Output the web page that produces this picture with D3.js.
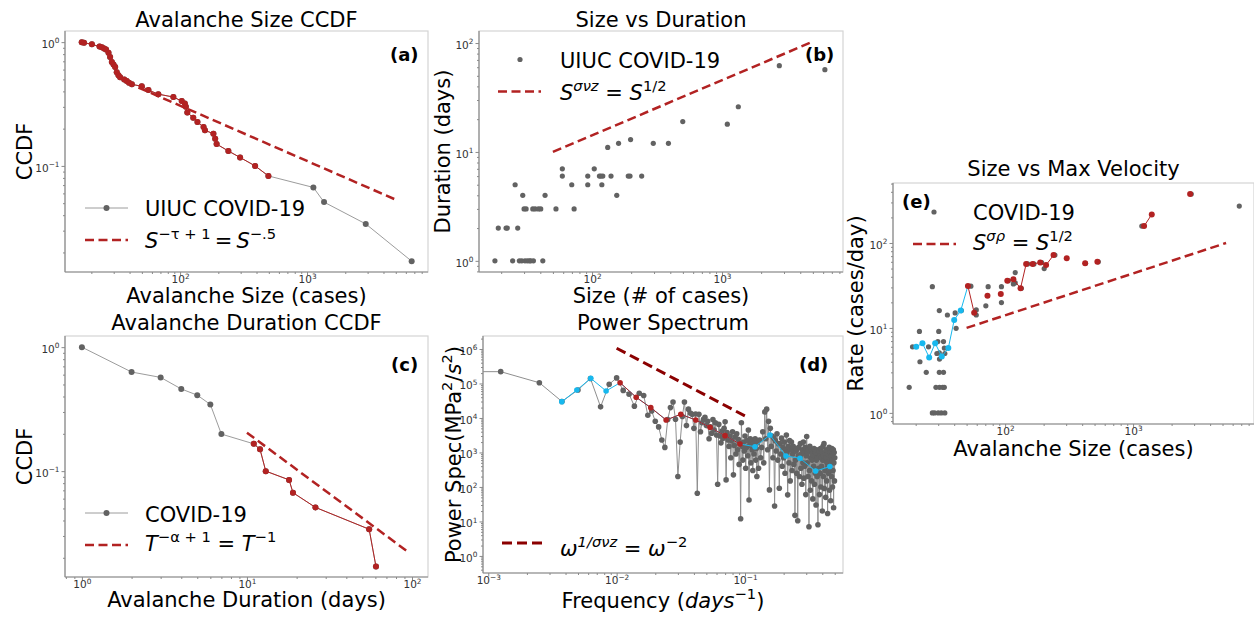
<!DOCTYPE html>
<html><head><meta charset="utf-8">
<script src="https://cdn.jsdelivr.net/npm/d3@7"></script>
<style>body{margin:0;background:#fff} svg{display:block} text{font-family:"DejaVu Sans",sans-serif}</style>
</head><body><svg id="c" width="1254" height="617"></svg>
<script>
// ---------- (a) Avalanche size CCDF ----------
const sizeCcdfSize = [16.8,17.5,20.2,23.2,24.2,25.2,26.1,27.3,28.1,29.0,29.9,30.8,31.7,32.7,33.7,36.3,38.0,39.6,41.7,49.9,56.3,67.4,88.5,103,109,111,114,127,137,153,157,183,189,194,240,297,390,496,1122,1361,2900,6670];
const sizeCcdfProb = [1.0,0.99,0.96,0.92,0.91,0.89,0.87,0.82,0.76,0.69,0.66,0.63,0.57,0.54,0.52,0.50,0.485,0.47,0.456,0.44,0.41,0.38,0.36,0.334,0.32,0.30,0.27,0.245,0.226,0.206,0.194,0.182,0.166,0.15,0.132,0.117,0.10,0.083,0.067,0.051,0.034,0.017];
const sizeFitMax = 500;
const sizeFitX = [47, 5080], sizeFitY = [0.43, 0.053];

// ---------- (b) Size vs duration ----------
const durSizeS = [17.9,19.0,21.8,22.3,24.5,25.6,26.8,27.6,28.8,29.3,30.0,30.5,31.1,31.8,33.0,33.8,35.0,35.4,36.5,38.7,40.3,41.8,43.5,52.8,59.1,59.1,69.8,72.8,92.7,92.7,104,114,117,119,121,132,140,155,160,190,196,198,241,296,387,499,1099,1335,2760,6190];
const durSizeT = [1,2,2,2,1,5,2,1,1,4,3,1,3,1,1,1,3,1,3,3,3,1,4,3,7,6,5,3,6,5,7,6,6,5,6,11,6,4,12,6,6,13,6,12,12,19,18,26,62,57];
const durFitX = [50, 4900], durFitY = [10, 102];

// ---------- (c) Duration CCDF ----------
const durCcdfT = [1,2,3,4,5,6,7,11,12,13,18,19,26,55,60.5];
const durCcdfProb = [1.0,0.63,0.57,0.46,0.41,0.345,0.199,0.166,0.15,0.10,0.085,0.067,0.051,0.034,0.017];
const durFitMin = 11;
const durCcdfFitX = [10, 96], durCcdfFitY = [0.204, 0.022];

// ---------- (d) Power spectrum ----------
const recordDays = 800;
const psdHarm = [0.6,1,2,3,4,5,6,7,8,9,10,11,12,13,14,15,16,17,18,19,20,21,22,23,24,25,26,27,28,29,30,31,32,33,34,35,36,37,38,39,40,41,42,43,44,45,46,47,48,49,50,51,52,53,54,55,56,57,58,59,60,61,62,63,64,65,66,67,68,69,70,71,72,73,74,75,76,77,78,79,80,81,82,83,84,85,86,87,88,89,90,91,92,93,94,95,96,97,98,99,100,
102,104,106,108,110,112,114,116,118,120,122,124,126,128,130,132,134,136,138,140,142,144,146,148,150,152,154,156,158,160,162,164,166,168,170,172,174,176,178,180,182,184,186,188,190,192,194,196,198,200,202,204,206,208,210,212,214,216,218,220,222,224,226,228,230,232,234,236,238,240,242,244,246,248,250,252,254,256,258,260,262,264,266,268,270,272,274,276,278,280,282,284,286,288,290,292,294,296,298,300,302,304,306,308,310,312,314,316,318,320,322,324,326,328,330,332,334,336,338,340,342,344,346,348,350,352,354,356,358,360,362,364,366,368,370,372,374,376,378,380,382,384,386,388,390,392,394,396,398,400];
const psdPow = [2.2e5,2.2e5,1.05e5,3.0e4,6.5e4,1.4e5,2.1e4,9.5e4,1.45e5,6.3e4,4.9e4,
2.2e4,5.2e4,4.5e4,1.2e4,1.6e4,8e3,5.5e3,2.3e3,1.4e3,9e3,
2.0e4,2.9e4,9.2e3,200,2.0e3,1.1e4,2.9e4,6e3,1.8e4,1.4e4,
1.28e4,5e3,1.3e4,66,1.28e4,4e3,7.3e3,9.2e3,1.05e4,6e3,
8e3,2.5e3,5.5e3,3.6e3,9e3,4.5e3,7.3e3,3.2e3,120,6.5e3,
3.0e3,1.9e3,4.2e3,2.6e3,5.0e3,7.8e3,160,3.8e3,2.3e3,1.5e3,
3.0e3,700,2.2e3,4.0e3,224,1.6e3,2.8e3,900,3.5e3,1.2e3,
2.4e3,450,1.8e3,12,7.3e3,1.5e3,600,2.0e3,1.1e3,3.0e3,
350,1.4e3,2.2e3,800,4.5e3,42,1.6e3,2.5e3,500,2.06e3,
1.2e3,300,1.8e3,900,1.5e3,2.5e3,600,1.3e3,200,1.9e3,
350,2300,700,1400,4000,500,15000,2500,18000,1200,
8000,82,5000,1500,3000,700,2600,28,2200,1100,
3500,600,1800,92,1800,900,2600,400,1400,700,
2000,250,1200,3200,1000,59,1500,500,2200,150,
1200,2000,300,900,1500,450,1100,15,600,1100,
250,1300,10.5,800,1400,200,700,1800,350,900,
120,1200,500,2000,180,1000,400,1400,60,800,
2900,500,1000,200,1200,7,300,1500,80,700,
1200,150,600,900,45,1100,400,1300,120,800,
250,1000,30,600,1200,200,700,8,900,350,
1100,60,800,250,1300,100,700,400,1000,20,
600,1500,200,800,1800,90,600,300,1000,50,
700,1200,150,500,900,17,400,1100,250,700,
1400,80,600,300,1000,40,500,800,200,1300,
600,100,900,300,1200,25,500,1000,150,700];
const psdBinFreq = [0.00374,0.0049,0.00629,0.00828,0.01064,0.0142,0.01845,0.0243,0.0316,0.0413,0.0534,0.0699,0.0914,0.1196,0.1566,0.2085,0.268,0.355,0.458];
const psdBinPow = [2.97e4,6.45e4,1.41e5,6.07e4,1.05e5,3.98e4,1.99e4,8.75e3,1.28e4,8.75e3,5.37e3,3.07e3,1.76e3,1.47e3,3.21e3,790,680,290,390];
const psdFitRange = [0.0106, 0.0915];
const psdFitX = [0.01, 0.1], psdFitY = [1.05e6, 1.14e4];

// ---------- (e) Size vs max velocity ----------
const velSize = [17.8,18.9,21.4,21.6,24.2,25.2,27.0,27.0,28.1,30.0,31.7,33.8,28.8,30.7,32.5,33.5,30.6,33.0,30.7,29.8,33.0,30.6,33.8,29.3,30.3,30.6,33.5,35.4,40.7,41.4,45.5,54.0,59.5,59.5,70.7,73.7,93.6,93.6,106,116,120,120,134,150,168,193,202,245,425,535,1170,2850,6760];
const velRate = [2,6,9.1,4,3,6,30.6,1,1,1,1,1,2,2,2,2,3,3,4.3,6.9,6.9,5.1,5,5,9.1,16,5.8,14.2,15,9.9,16,31,16.3,14.2,18.2,30.6,30.6,19.9,36,33,44.8,34,29.3,56.6,56.6,58.8,50,72,57.6,60,158,377,272];
const velBinSize = [20.2,22.6,25.5,28.4,32.0,36.0,40.0,45.0,51.2,57.3,72.8,92.5,104,116,132,146,164,188,209,239,303,422,526,1219,1400,2790];
const velBinRate = [6.0,6.6,4.5,6.6,4.6,5.8,12.4,16,31.2,15.1,24,25,36,37.4,29.3,56.6,56.6,58.8,55,72,66,57.6,60,158,217,377];
const velBinSeg = [0,0,0,0,0,0,0,0,1,1,2,3,4,4,4,4,4,4,4,4,5,6,7,8,8,9];
const velFitX = [50, 5330], velFitY = [10, 100];

// ---------- styling ----------
const GRAY = '#626262', LGRAY = '#9c9c9c', RED = '#b22222', DRED = '#8b0000', BLUE = '#17b8ee';
const svg = d3.select('#c');
const defs = svg.append('defs');

function rich(sel, parts, fs) {
  let shift = 0;
  parts.forEach(p => {
    const target = p.sup ? -fs * 0.42 : 0;
    const t = sel.append('tspan').text(p.t);
    if (target - shift) t.attr('dy', target - shift);
    shift = target;
    if (p.sup) t.attr('font-size', fs * 0.7);
    if (p.i) t.attr('font-style', 'italic');
  });
}
function expLabel(sel, d, fs) {
  const e = Math.round(Math.log10(d));
  sel.text(null);
  rich(sel, [{t: '10'}, {t: e < 0 ? '\u2212' + (-e) : String(e), sup: 1}], fs);
}
function logTicks(dom) {
  const maj = [], min = [];
  const lo = Math.floor(Math.log10(dom[0])), hi = Math.ceil(Math.log10(dom[1]));
  for (let e = lo; e <= hi; e++) {
    for (let m = 1; m <= 9; m++) {
      const v = m * Math.pow(10, e);
      if (v >= dom[0] * 0.9999 && v <= dom[1] * 1.0001) (m === 1 ? maj : min).push(v);
    }
  }
  return {maj, min};
}

function panel(p) {
  const x = d3.scaleLog().domain(p.xd).range([p.l, p.r]);
  const y = d3.scaleLog().domain(p.yd).range([p.b, p.t]);
  const g = svg.append('g');
  defs.append('clipPath').attr('id', 'clip' + p.id).append('rect')
    .attr('x', p.l).attr('y', p.t).attr('width', p.r - p.l).attr('height', p.b - p.t);
  g.append('rect').attr('x', p.l).attr('y', p.t).attr('width', p.r - p.l).attr('height', p.b - p.t)
    .attr('fill', 'none').attr('stroke', '#d4d4d4').attr('stroke-width', 1.2);
  g.append('line').attr('x1', p.l).attr('x2', p.l).attr('y1', p.t).attr('y2', p.b).attr('stroke', '#8a8a8a').attr('stroke-width', 1.2);
  g.append('line').attr('x1', p.l).attr('x2', p.r).attr('y1', p.b).attr('y2', p.b).attr('stroke', '#8a8a8a').attr('stroke-width', 1.2);
  const tx = logTicks(p.xd), ty = logTicks(p.yd);
  const fs = 10.5;
  const axes = [
    [d3.axisBottom(x).tickValues(tx.min).tickSize(2).tickFormat(''), `translate(0,${p.b})`, false],
    [d3.axisBottom(x).tickValues(tx.maj).tickSize(3.5).tickPadding(0.5).tickFormat(''), `translate(0,${p.b})`, 'x'],
    [d3.axisLeft(y).tickValues(ty.min).tickSize(2).tickFormat(''), `translate(${p.l},0)`, false],
    [d3.axisLeft(y).tickValues(ty.maj).tickSize(3.5).tickPadding(2).tickFormat(''), `translate(${p.l},0)`, 'y']
  ];
  axes.forEach(([ax, tr, lab]) => {
    const ga = g.append('g').attr('transform', tr).call(ax);
    ga.select('.domain').remove();
    ga.selectAll('.tick line').attr('stroke', '#8a8a8a');
    if (lab) {
      ga.selectAll('.tick text').attr('fill', '#333').attr('font-size', fs)
        .attr('font-family', '"DejaVu Sans",sans-serif')
        .each(function(d) { expLabel(d3.select(this), d, fs); });
      if (lab === 'y') ga.selectAll('.tick text').attr('dy', '0.5em');
    }
  });
  const data = svg.append('g').attr('clip-path', `url(#clip${p.id})`);
  const cx = (p.l + p.r) / 2, cy = (p.t + p.b) / 2;
  svg.append('text').attr('x', cx).attr('y', p.titleY).attr('text-anchor', 'middle').attr('font-size', 21).text(p.title);
  const xl = svg.append('text').attr('x', cx).attr('y', p.xlabY).attr('text-anchor', 'middle').attr('font-size', 21);
  rich(xl, p.xlab, 21);
  const yl = svg.append('text').attr('transform', `translate(${p.ylabX},${cy}) rotate(-90)`).attr('text-anchor', 'middle').attr('font-size', 21);
  rich(yl, p.ylab, 21);
  svg.append('text').attr('x', p.tagX).attr('y', p.tagY).attr('font-size', 18).attr('font-weight', 'bold').text(p.tag);
  return {x, y, data, g};
}

function dots(P, xs, ys, color, r, filter) {
  const idx = d3.range(xs.length).filter(i => xs[i] != null && (!filter || filter(i)));
  P.data.selectAll(null).data(idx).join('circle')
    .attr('cx', i => P.x(xs[i])).attr('cy', i => P.y(ys[i])).attr('r', r).attr('fill', color);
}
function pline(P, xs, ys, color, w, filter, dash) {
  const idx = d3.range(xs.length).filter(i => !filter || filter(i));
  const ln = d3.line().x(i => P.x(xs[i])).y(i => P.y(ys[i]));
  const path = P.data.append('path').attr('d', ln(idx)).attr('fill', 'none').attr('stroke', color).attr('stroke-width', w);
  if (dash) path.attr('stroke-dasharray', dash);
  return path;
}
function legendLine(x1, x2, y, color, w, dash, marker) {
  svg.append('line').attr('x1', x1).attr('x2', x2).attr('y1', y).attr('y2', y)
    .attr('stroke', color).attr('stroke-width', w).attr('stroke-dasharray', dash || null);
  if (marker) svg.append('circle').attr('cx', (x1 + x2) / 2).attr('cy', y).attr('r', 3).attr('fill', marker);
}
function legendText(x, y, parts) {
  const t = svg.append('text').attr('x', x).attr('y', y).attr('font-size', 21);
  rich(t, parts, 21);
}

// ---------- Panel (a) ----------
const A = panel({id: 'a', l: 65, r: 428, t: 31, b: 272, xd: [12.4, 8970], yd: [0.0139, 1.23],
  title: 'Avalanche Size CCDF', titleY: 27, xlab: [{t: 'Avalanche Size (cases)'}], xlabY: 303,
  ylab: [{t: 'CCDF'}], ylabX: 32, tag: '(a)', tagX: 390, tagY: 60.5});
pline(A, sizeCcdfSize, sizeCcdfProb, LGRAY, 1);
dots(A, sizeCcdfSize, sizeCcdfProb, GRAY, 3);
pline(A, sizeCcdfSize, sizeCcdfProb, RED, 1, i => sizeCcdfSize[i] <= sizeFitMax);
dots(A, sizeCcdfSize, sizeCcdfProb, RED, 3, i => sizeCcdfSize[i] <= sizeFitMax);
pline(A, sizeFitX, sizeFitY, RED, 2.5, null, '9,4.5');
legendLine(85, 128, 208, LGRAY, 1, null, GRAY);
legendText(145, 216, [{t: 'UIUC COVID-19'}]);
legendLine(85, 128, 240, RED, 2.5, '9,4.5');
legendText(145, 248, [{t: 'S', i: 1}, {t: '\u2212\u03c4 + 1', sup: 1}, {t: '\u2009=\u2009'}, {t: 'S', i: 1}, {t: '\u2212.5', sup: 1}]);

// ---------- Panel (b) ----------
const B = panel({id: 'b', l: 479, r: 843, t: 31, b: 272, xd: [13.5, 8530], yd: [0.79, 129],
  title: 'Size vs Duration', titleY: 27, xlab: [{t: 'Size (# of cases)'}], xlabY: 303,
  ylab: [{t: 'Duration (days)'}], ylabX: 450, tag: '(b)', tagX: 805, tagY: 60.5});
dots(B, durSizeS, durSizeT, GRAY, 2.6);
pline(B, durFitX, durFitY, RED, 2.5, null, '9,4.5');
svg.append('circle').attr('cx', 520).attr('cy', 59.5).attr('r', 2.6).attr('fill', GRAY);
legendText(560, 68, [{t: 'UIUC COVID-19'}]);
legendLine(498, 541, 91.5, RED, 2.5, '9,4.5');
legendText(560, 100, [{t: 'S', i: 1}, {t: '\u03c3\u03bdz', sup: 1, i: 1}, {t: ' = '}, {t: 'S', i: 1}, {t: '1/2', sup: 1}]);

// ---------- Panel (c) ----------
const C = panel({id: 'c', l: 65, r: 428, t: 336, b: 577, xd: [0.79, 125], yd: [0.014, 1.23],
  title: 'Avalanche Duration CCDF', titleY: 330, xlab: [{t: 'Avalanche Duration (days)'}], xlabY: 607,
  ylab: [{t: 'CCDF'}], ylabX: 32, tag: '(c)', tagX: 391, tagY: 370.5});
pline(C, durCcdfT, durCcdfProb, LGRAY, 1);
dots(C, durCcdfT, durCcdfProb, GRAY, 3);
pline(C, durCcdfT, durCcdfProb, RED, 1, i => durCcdfT[i] >= durFitMin);
dots(C, durCcdfT, durCcdfProb, RED, 3, i => durCcdfT[i] >= durFitMin);
pline(C, durCcdfFitX, durCcdfFitY, RED, 2.5, null, '9,4.5');
legendLine(85, 128, 513, LGRAY, 1, null, GRAY);
legendText(145, 522, [{t: 'COVID-19'}]);
legendLine(85, 128, 545, RED, 2.5, '9,4.5');
legendText(145, 551, [{t: 'T', i: 1}, {t: '\u2212\u03b1 + 1', sup: 1}, {t: ' = '}, {t: 'T', i: 1}, {t: '\u22121', sup: 1}]);

// ---------- Panel (d) ----------
const psdFreq = psdHarm.map(k => k / recordDays);
const D = panel({id: 'd', l: 483, r: 843, t: 336, b: 573, xd: [9.1e-4, 0.58], yd: [0.32, 2.38e6],
  title: 'Power Spectrum', titleY: 330, xlab: [{t: 'Frequency ('}, {t: 'days', i: 1}, {t: '\u22121', sup: 1}, {t: ')'}], xlabY: 608,
  ylab: [{t: 'Power Spec(MPa'}, {t: '2', sup: 1}, {t: '/'}, {t: 's', i: 1}, {t: '2', sup: 1}, {t: ')'}], ylabX: 461,
  tag: '(d)', tagX: 799, tagY: 370.5});
pline(D, psdFreq, psdPow, '#8f8f8f', 1);
dots(D, psdFreq, psdPow, GRAY, 2.8);
pline(D, psdBinFreq, psdBinPow, BLUE, 1);
dots(D, psdBinFreq, psdBinPow, BLUE, 2.8, i => psdBinFreq[i] < psdFitRange[0] || psdBinFreq[i] > psdFitRange[1]);
pline(D, psdBinFreq, psdBinPow, RED, 1, i => psdBinFreq[i] >= psdFitRange[0] && psdBinFreq[i] <= psdFitRange[1]);
dots(D, psdBinFreq, psdBinPow, RED, 2.8, i => psdBinFreq[i] >= psdFitRange[0] && psdBinFreq[i] <= psdFitRange[1]);
pline(D, psdFitX, psdFitY, DRED, 3, null, '10,5');
legendLine(502, 544, 543, DRED, 3, '10,5');
legendText(560, 556, [{t: '\u03c9', i: 1}, {t: '1/\u03c3\u03bdz', sup: 1, i: 1}, {t: ' = '}, {t: '\u03c9', i: 1}, {t: '\u22122', sup: 1}]);

// ---------- Panel (e) ----------
const E = panel({id: 'e', l: 893, r: 1254, t: 183, b: 424, xd: [13.3, 8810], yd: [0.74, 508],
  title: 'Size vs Max Velocity', titleY: 176, xlab: [{t: 'Avalanche Size (cases)'}], xlabY: 456,
  ylab: [{t: 'Rate (cases/day)'}], ylabX: 863, tag: '(e)', tagX: 902, tagY: 207.5});
dots(E, velSize, velRate, GRAY, 2.6);
pline(E, velBinSize, velBinRate, BLUE, 1, i => velBinSeg[i] <= 1 && (velBinSeg[i] === 0 || velBinSeg[i - 1] === 0));
d3.groups(d3.range(velBinSize.length).filter(i => velBinSeg[i] > 0), i => velBinSeg[i]).forEach(([s, ids]) => {
  if (ids.length > 1) pline(E, velBinSize, velBinRate, RED, 1, i => velBinSeg[i] === s);
});
dots(E, velBinSize, velBinRate, BLUE, 3, i => velBinSeg[i] === 0);
dots(E, velBinSize, velBinRate, RED, 3, i => velBinSeg[i] > 0);
pline(E, velFitX, velFitY, RED, 2.5, null, '9,4.5');
svg.append('circle').attr('cx', 934).attr('cy', 212).attr('r', 2.6).attr('fill', GRAY);
legendText(973, 220, [{t: 'COVID-19'}]);
legendLine(913, 956, 244, RED, 2.5, '9,4.5');
legendText(973, 250, [{t: 'S', i: 1}, {t: '\u03c3\u03c1', sup: 1, i: 1}, {t: ' = '}, {t: 'S', i: 1}, {t: '1/2', sup: 1}]);
</script></body></html>
